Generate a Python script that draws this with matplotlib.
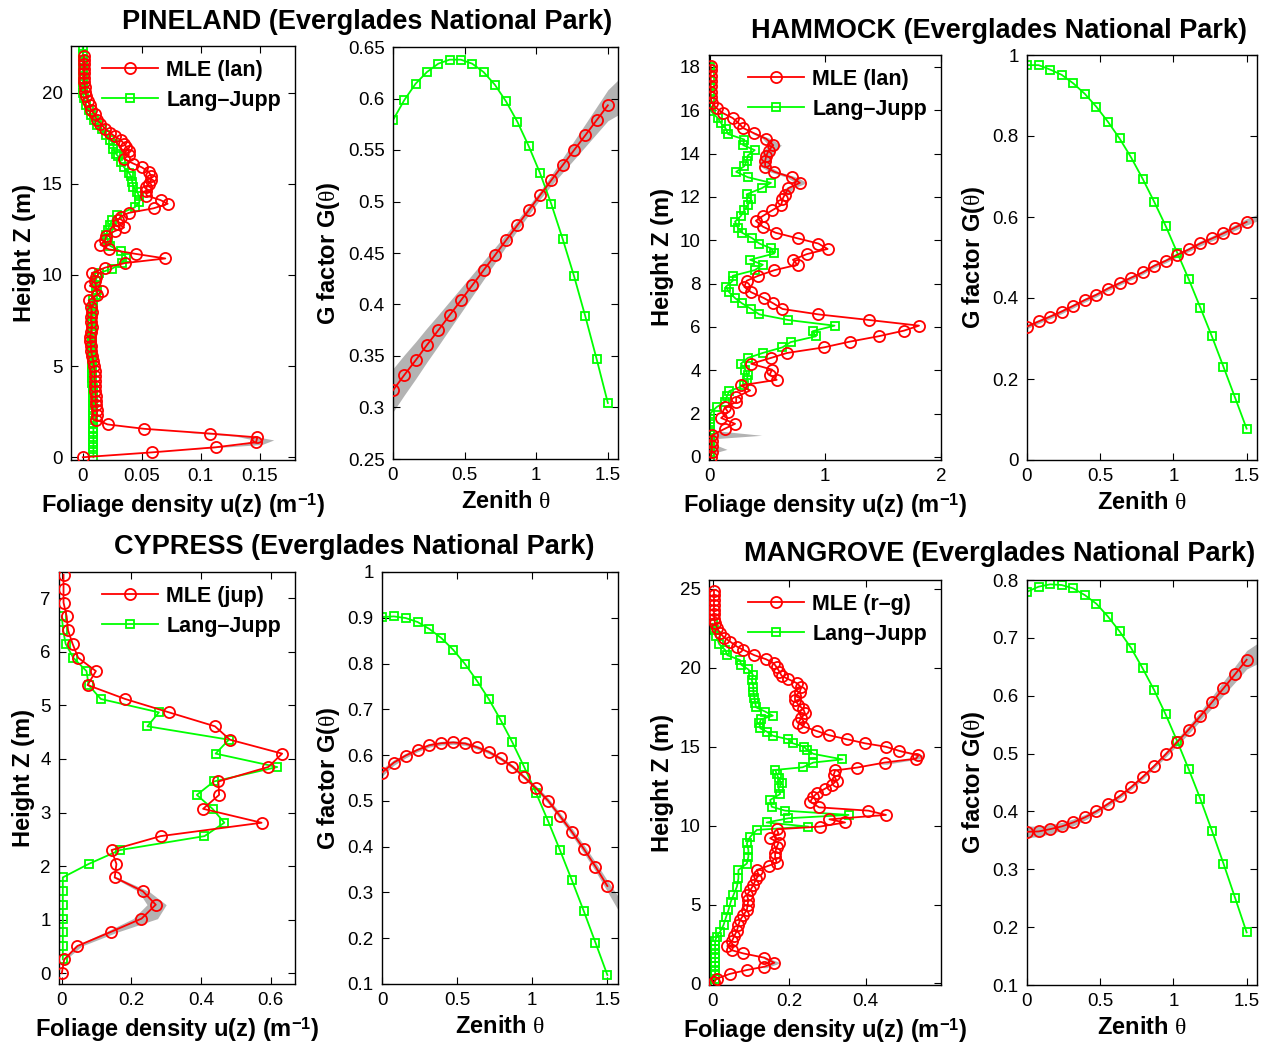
import numpy as np
import matplotlib
matplotlib.use('Agg')
import matplotlib.pyplot as plt
from matplotlib.ticker import FuncFormatter

plt.rcParams['font.family'] = ['Liberation Sans', 'DejaVu Sans']
plt.rcParams['mathtext.fontset'] = 'custom'
plt.rcParams['mathtext.rm'] = 'Liberation Serif'
plt.rcParams['mathtext.it'] = 'Liberation Serif:italic'
plt.rcParams['mathtext.bf'] = 'Liberation Sans:bold'

# ---------------- PINELAND ----------------
pine_mle_z = [0.0, 0.27, 0.55, 0.82, 1.09, 1.3, 1.56, 1.8, 2.07, 2.3, 2.57, 2.84, 3.11, 3.38, 3.65, 3.92,
              4.19, 4.46, 4.73, 5.0, 5.27, 5.54, 5.81, 6.08, 6.35, 6.62, 6.89, 7.16, 7.43, 7.7, 7.97, 8.24,
              8.6, 8.9, 9.1, 9.4, 9.65, 9.9, 10.1, 10.4, 10.65, 10.9, 11.15, 11.4, 11.65, 11.9, 12.15, 12.4,
              12.6, 12.8, 13.0, 13.2, 13.4, 13.65, 13.9, 14.1, 14.35, 14.6, 14.8, 15.0, 15.2, 15.4, 15.65,
              15.9, 16.1, 16.35, 16.6, 16.8, 17.0, 17.2, 17.4, 17.6, 17.8, 18.0, 18.3, 18.5, 18.8, 19.05,
              19.3, 19.55, 19.8, 20.05, 20.3, 20.55, 20.8, 21.05, 21.3, 21.55, 21.8, 22.0]
pine_mle_u = [0.0, 0.059, 0.113, 0.147, 0.148, 0.108, 0.052, 0.021, 0.011, 0.012, 0.012, 0.011, 0.011, 0.011,
              0.0105, 0.0105, 0.010, 0.010, 0.010, 0.0095, 0.009, 0.008, 0.007, 0.007, 0.0065, 0.006, 0.007,
              0.008, 0.007, 0.007, 0.0075, 0.007, 0.005, 0.012, 0.016, 0.006, 0.010, 0.011, 0.0076, 0.019,
              0.036, 0.070, 0.045, 0.022, 0.015, 0.019, 0.020, 0.027, 0.035, 0.030, 0.030, 0.032, 0.039,
              0.060, 0.072, 0.066, 0.054, 0.054, 0.054, 0.056, 0.058, 0.058, 0.056, 0.050, 0.043, 0.035,
              0.039, 0.039, 0.037, 0.035, 0.032, 0.027, 0.023, 0.019, 0.015, 0.012, 0.010, 0.007, 0.006,
              0.004, 0.003, 0.002, 0.002, 0.001, 0.001, 0.001, 0.001, 0.001, 0.001, 0.001]
pine_lj_z = [0.0, 0.27, 0.55, 0.82, 1.09, 1.36, 1.63, 1.9, 2.17, 2.44, 2.71, 2.98, 3.25, 3.52, 3.79, 4.06,
             4.33, 4.6, 4.87, 5.14, 5.41, 5.68, 5.95, 6.22, 6.49, 6.76, 7.03, 7.3, 7.57, 7.84, 8.11, 8.38,
             8.65, 8.9, 9.15, 9.4, 9.65, 9.9, 10.1, 10.35, 10.65, 10.95, 11.3, 11.6, 11.9, 12.2, 12.45,
             12.75, 13.0, 13.3, 13.7, 14.0, 14.3, 14.55, 14.8, 15.1, 15.4, 15.6, 15.9, 16.2, 16.5, 16.65,
             16.9, 17.2, 17.4, 17.65, 18.0, 18.2, 18.5, 18.75, 19.05, 19.3, 19.7, 20.0, 20.3, 20.6, 20.9,
             21.2, 21.5, 21.8, 22.1, 22.45]
pine_lj_u = [0.009, 0.009, 0.009, 0.009, 0.009, 0.009, 0.009, 0.009, 0.009, 0.009, 0.009, 0.009, 0.0085,
             0.0085, 0.0085, 0.008, 0.008, 0.008, 0.008, 0.008, 0.0075, 0.0075, 0.0075, 0.0075, 0.0075,
             0.0075, 0.0075, 0.0075, 0.008, 0.008, 0.008, 0.0085, 0.009, 0.011, 0.012, 0.011, 0.011, 0.012,
             0.014, 0.025, 0.033, 0.037, 0.032, 0.023, 0.021, 0.020, 0.021, 0.023, 0.025, 0.029, 0.044,
             0.048, 0.048, 0.046, 0.043, 0.042, 0.041, 0.039, 0.035, 0.032, 0.030, 0.028, 0.026, 0.026,
             0.023, 0.020, 0.016, 0.012, 0.0096, 0.007, 0.005, 0.003, 0.001, 0.0, 0.0, 0.0, 0.0, 0.0,
             0.0, 0.0, 0.0, 0.0]
pine_band_z = [0.45, 0.7, 0.95, 1.15, 1.35]
pine_band_lo = [0.09, 0.135, 0.145, 0.13, 0.09]
pine_band_hi = [0.095, 0.152, 0.162, 0.145, 0.095]

theta = [0.0, 0.079, 0.158, 0.237, 0.316, 0.395, 0.474, 0.553, 0.632, 0.711, 0.789, 0.868, 0.947,
         1.026, 1.105, 1.184, 1.263, 1.342, 1.421, 1.5]
theta_end = 1.5708

pine_g_mle = [0.3167, 0.3316, 0.3458, 0.3607, 0.3749, 0.3895, 0.4040, 0.4186, 0.4332, 0.4477, 0.4623,
              0.4769, 0.4914, 0.5060, 0.5206, 0.5351, 0.5497, 0.5642, 0.5788, 0.5934]
pine_g_lj = [0.5790, 0.5985, 0.6144, 0.6257, 0.6338, 0.6377, 0.6377, 0.6338, 0.6257, 0.6134, 0.5972,
             0.5775, 0.5539, 0.5277, 0.4976, 0.4639, 0.4280, 0.3888, 0.3474, 0.3044]
pine_g_hw = [0.021, 0.0195, 0.018, 0.0165, 0.015, 0.0135, 0.012, 0.0105, 0.009, 0.0075, 0.006, 0.005,
             0.0045, 0.004, 0.005, 0.007, 0.009, 0.011, 0.013, 0.015]
pine_g_end = [0.584, 0.618]

# ---------------- HAMMOCK ----------------
ham_mle_z = [0.0, 0.25, 0.5, 0.75, 1.0, 1.3, 1.53, 1.8, 2.07, 2.3, 2.53, 2.76, 3.07, 3.3, 3.56, 3.8, 4.03,
             4.3, 4.57, 4.8, 5.06, 5.32, 5.57, 5.83, 6.06, 6.32, 6.58, 6.83, 7.09, 7.33, 7.6, 7.85, 8.13,
             8.36, 8.62, 8.87, 9.1, 9.36, 9.6, 9.85, 10.09, 10.35, 10.63, 10.9, 11.12, 11.38, 11.63, 11.9,
             12.1, 12.4, 12.65, 12.9, 13.16, 13.4, 13.65, 13.9, 14.14, 14.39, 14.68, 14.95, 15.18, 15.41,
             15.64, 15.87, 16.1, 16.35, 16.6, 16.85, 17.1, 17.35, 17.6, 17.85, 18.05]
ham_mle_u = [0.01, 0.02, 0.02, 0.02, 0.02, 0.13, 0.22, 0.10, 0.16, 0.13, 0.23, 0.23, 0.35, 0.27, 0.58,
             0.52, 0.54, 0.36, 0.53, 0.67, 0.99, 1.21, 1.46, 1.68, 1.81, 1.38, 0.94, 0.63, 0.55, 0.47,
             0.36, 0.30, 0.32, 0.42, 0.56, 0.76, 0.72, 0.84, 1.02, 0.94, 0.76, 0.57, 0.46, 0.40, 0.46,
             0.54, 0.62, 0.63, 0.65, 0.68, 0.78, 0.71, 0.56, 0.48, 0.48, 0.49, 0.51, 0.55, 0.49, 0.38,
             0.29, 0.25, 0.20, 0.115, 0.06, 0.02, 0.01, 0.01, 0.01, 0.01, 0.01, 0.01, 0.01]
ham_lj_z = [0.0, 0.25, 0.5, 0.75, 1.0, 1.25, 1.5, 1.75, 2.0, 2.3, 2.53, 2.8, 3.04, 3.3, 3.53, 3.76, 4.02,
            4.3, 4.57, 4.8, 5.06, 5.3, 5.57, 5.8, 6.06, 6.32, 6.58, 6.83, 7.09, 7.33, 7.6, 7.85, 8.13,
            8.36, 8.62, 8.87, 9.1, 9.39, 9.63, 9.85, 10.09, 10.35, 10.58, 10.86, 11.12, 11.38, 11.63,
            11.89, 12.12, 12.4, 12.65, 12.91, 13.16, 13.42, 13.65, 13.91, 14.16, 14.39, 14.65, 14.9,
            15.15, 15.4, 15.64, 15.95, 16.2, 16.5, 16.8, 17.1, 17.4, 17.7, 18.0]
ham_lj_u = [0.005, 0.005, 0.005, 0.005, 0.005, 0.005, 0.005, 0.005, 0.005, 0.06, 0.13, 0.15, 0.17,
            0.30, 0.32, 0.33, 0.31, 0.27, 0.33, 0.46, 0.63, 0.70, 0.92, 0.89, 1.08, 0.68, 0.43, 0.36,
            0.28, 0.22, 0.17, 0.14, 0.20, 0.20, 0.39, 0.46, 0.35, 0.56, 0.53, 0.43, 0.37, 0.28, 0.245,
            0.22, 0.27, 0.30, 0.33, 0.36, 0.32, 0.45, 0.53, 0.33, 0.23, 0.30, 0.32, 0.33, 0.39, 0.29,
            0.30, 0.16, 0.14, 0.10, 0.07, 0.014, 0.005, 0.005, 0.005, 0.005, 0.005, 0.005, 0.005]
ham_band_z = [0.15, 0.35, 0.5, 0.7, 0.85, 1.0, 1.2, 1.3]
ham_band_lo = [0.005, 0.005, 0.005, 0.005, 0.005, 0.01, 0.05, 0.12]
ham_band_hi = [0.02, 0.15, 0.08, 0.04, 0.06, 0.45, 0.08, 0.14]
ham_band2_z = [12.1, 12.4, 12.65, 12.9, 13.16, 13.4, 13.65, 13.9, 14.14, 14.39, 14.68, 14.95]
ham_band2_lo = [0.62, 0.65, 0.74, 0.67, 0.52, 0.44, 0.44, 0.45, 0.47, 0.51, 0.46, 0.36]
ham_band2_hi = [0.68, 0.72, 0.84, 0.76, 0.60, 0.52, 0.53, 0.54, 0.57, 0.62, 0.53, 0.40]

ham_g_mle = [0.3295, 0.342, 0.354, 0.3666, 0.3806, 0.395, 0.408, 0.4234, 0.4366, 0.450, 0.463, 0.4794,
             0.4918, 0.5066, 0.5198, 0.535, 0.547, 0.560, 0.574, 0.588]
ham_g_lj = [0.975, 0.975, 0.964, 0.951, 0.930, 0.904, 0.872, 0.835, 0.794, 0.747, 0.695, 0.638, 0.578,
            0.512, 0.446, 0.376, 0.305, 0.230, 0.154, 0.0774]
ham_g_hw = [0.005, 0.005, 0.005, 0.005, 0.005, 0.005, 0.005, 0.005, 0.005, 0.005, 0.005, 0.005, 0.005,
            0.005, 0.005, 0.006, 0.006, 0.007, 0.007, 0.008]
ham_g_end = [0.590, 0.606]

# ---------------- CYPRESS ----------------
cyp_mle_z = [0.0, 0.26, 0.51, 0.77, 1.02, 1.28, 1.53, 1.79, 2.04, 2.30, 2.56, 2.81, 3.07, 3.33, 3.58,
             3.85, 4.10, 4.36, 4.61, 4.87, 5.12, 5.38, 5.64, 5.89, 6.15, 6.40, 6.66, 6.92, 7.17, 7.44]
cyp_mle_u = [0.0, 0.007, 0.045, 0.14, 0.229, 0.27, 0.233, 0.152, 0.157, 0.143, 0.284, 0.574, 0.406,
             0.452, 0.45, 0.593, 0.633, 0.483, 0.44, 0.308, 0.182, 0.074, 0.098, 0.047, 0.031, 0.018,
             0.014, 0.005, 0.005, 0.005]
cyp_lj_z = [0.26, 0.51, 0.77, 1.02, 1.28, 1.53, 1.79, 2.04, 2.30, 2.56, 2.81, 3.07, 3.33, 3.58, 3.85,
            4.10, 4.36, 4.61, 4.87, 5.12, 5.38, 5.64, 5.89, 6.15, 6.40, 6.66]
cyp_lj_u = [0.003, 0.003, 0.003, 0.003, 0.003, 0.003, 0.003, 0.077, 0.167, 0.41, 0.467, 0.433, 0.388,
            0.437, 0.619, 0.442, 0.48, 0.246, 0.279, 0.112, 0.077, 0.071, 0.033, 0.011, 0.004, 0.0]
cyp_band_z = [0.26, 0.51, 0.77, 1.02, 1.28, 1.53, 1.79]
cyp_band_lo = [0.004, 0.038, 0.125, 0.205, 0.245, 0.22, 0.147]
cyp_band_hi = [0.012, 0.058, 0.16, 0.275, 0.30, 0.25, 0.16]

cyp_g_mle = [0.562, 0.5838, 0.5991, 0.6115, 0.6217, 0.626, 0.6276, 0.6254, 0.6173, 0.6071, 0.5926,
             0.575, 0.5518, 0.5277, 0.5007, 0.4672, 0.4329, 0.3958, 0.3564, 0.3141]
cyp_g_lj = [0.9016, 0.903, 0.8994, 0.8907, 0.8754, 0.8557, 0.830, 0.7988, 0.7624, 0.7223, 0.6771,
            0.6276, 0.5736, 0.5168, 0.4563, 0.3929, 0.3273, 0.2602, 0.1902, 0.1197]
cyp_g_hw = [0.008, 0.006, 0.005, 0.004, 0.004, 0.004, 0.004, 0.004, 0.004, 0.004, 0.004, 0.004, 0.004,
            0.005, 0.006, 0.007, 0.008, 0.009, 0.010, 0.012]
cyp_g_end = [0.262, 0.292]

# ---------------- MANGROVE ----------------
man_mle_z = [0.06, 0.3, 0.6, 0.85, 1.06, 1.31, 1.63, 1.9, 2.1, 2.37, 2.68, 3.0, 3.34, 3.7, 4.0, 4.33,
             4.65, 4.97, 5.3, 5.6, 5.9, 6.24, 6.6, 6.87, 7.19, 7.46, 7.65, 7.99, 8.29, 8.63, 8.92, 9.2,
             9.5, 9.77, 9.94, 10.2, 10.4, 10.68, 10.95, 11.16, 11.52, 11.8, 12.05, 12.35, 12.58, 12.85,
             13.2, 13.5, 13.68, 14.0, 14.25, 14.46, 14.74, 15.0, 15.22, 15.48, 15.73, 16.0, 16.28, 16.53,
             16.8, 17.12, 17.38, 17.65, 17.97, 18.2, 18.5, 18.77, 19.03, 19.28, 19.5, 19.77, 20.04, 20.3,
             20.55, 20.8, 21.14, 21.35, 21.67, 21.92, 22.2, 22.5, 22.83, 23.1, 23.4, 23.7, 24.0, 24.3,
             24.6, 24.9]
man_mle_u = [0.002, 0.01, 0.044, 0.089, 0.135, 0.161, 0.135, 0.08, 0.05, 0.038, 0.05, 0.056, 0.063,
             0.067, 0.071, 0.08, 0.089, 0.091, 0.093, 0.089, 0.098, 0.106, 0.113, 0.12, 0.115, 0.146,
             0.167, 0.163, 0.163, 0.167, 0.172, 0.15, 0.172, 0.167, 0.28, 0.346, 0.305, 0.453, 0.407,
             0.278, 0.255, 0.262, 0.272, 0.294, 0.311, 0.324, 0.316, 0.32, 0.377, 0.45, 0.532, 0.538,
             0.488, 0.453, 0.398, 0.35, 0.304, 0.272, 0.237, 0.224, 0.231, 0.241, 0.237, 0.224, 0.215,
             0.215, 0.228, 0.231, 0.22, 0.198, 0.18, 0.174, 0.167, 0.159, 0.139, 0.109, 0.08, 0.063,
             0.045, 0.03, 0.019, 0.012, 0.006, 0.004, 0.003, 0.003, 0.003, 0.003, 0.003, 0.003]
man_lj_z = [0.0, 0.27, 0.54, 0.81, 1.08, 1.35, 1.62, 1.89, 2.16, 2.43, 2.7, 2.96, 3.28, 3.7, 4.23, 4.65,
            5.18, 5.6, 6.13, 6.66, 7.19, 7.6, 8.03, 8.46, 8.88, 9.3, 9.73, 9.94, 10.2, 10.47, 10.68,
            10.95, 11.2, 11.63, 12.0, 12.37, 12.68, 13.0, 13.3, 13.53, 13.7, 14.0, 14.2, 14.55, 14.8,
            15.0, 15.22, 15.47, 15.7, 15.96, 16.17, 16.5, 16.74, 16.97, 17.23, 17.5, 17.76, 18.08, 18.5,
            18.8, 19.24, 19.56, 19.9, 20.2, 20.5, 20.8, 21.14, 21.5, 21.99, 22.4, 22.8]
man_lj_u = [0.005, 0.006, 0.006, 0.006, 0.006, 0.006, 0.006, 0.006, 0.006, 0.006, 0.006, 0.01, 0.019,
            0.028, 0.035, 0.041, 0.047, 0.054, 0.063, 0.067, 0.067, 0.089, 0.093, 0.093, 0.089, 0.098,
            0.115, 0.25, 0.141, 0.198, 0.355, 0.189, 0.154, 0.15, 0.176, 0.172, 0.18, 0.172, 0.167,
            0.163, 0.235, 0.263, 0.339, 0.263, 0.246, 0.239, 0.209, 0.198, 0.157, 0.141, 0.124, 0.122,
            0.126, 0.157, 0.137, 0.113, 0.111, 0.109, 0.106, 0.106, 0.102, 0.105, 0.093, 0.074, 0.071,
            0.038, 0.032, 0.017, 0.009, 0.003, 0.0]
man_band_z = [1.0, 1.31, 1.63]
man_band_lo = [0.13, 0.15, 0.13]
man_band_hi = [0.14, 0.178, 0.14]
man_band2_z = [13.9, 14.25, 14.46, 14.74]
man_band2_lo = [0.43, 0.525, 0.53, 0.48]
man_band2_hi = [0.455, 0.545, 0.552, 0.495]

man_g_mle = [0.3648, 0.3654, 0.3694, 0.3741, 0.381, 0.3897, 0.4002, 0.4129, 0.4262, 0.4419, 0.4593,
             0.4784, 0.4987, 0.5201, 0.5416, 0.5647, 0.5885, 0.6128, 0.6372, 0.6621]
man_g_lj = [0.7797, 0.7884, 0.7925, 0.7913, 0.7855, 0.7739, 0.7589, 0.7368, 0.7113, 0.6824, 0.6476,
            0.6099, 0.5676, 0.5213, 0.4726, 0.4216, 0.3666, 0.3098, 0.2507, 0.191]
man_g_hw = [0.010, 0.009, 0.008, 0.007, 0.006, 0.005, 0.004, 0.004, 0.004, 0.004, 0.004, 0.004, 0.005,
            0.006, 0.007, 0.008, 0.010, 0.012, 0.014, 0.016]
man_g_end = [0.655, 0.690]

titles = ['PINELAND (Everglades National Park)', 'HAMMOCK (Everglades National Park)',
          'CYPRESS (Everglades National Park)', 'MANGROVE (Everglades National Park)']
mle_labels = ['MLE (lan)', 'MLE (lan)', 'MLE (jup)', 'MLE (r\u2013g)']
lj_label = 'Lang\u2013Jupp'

# ---------------- drawing ----------------
W, H = 1270, 1048
RED = (1, 0, 0)
GREEN = (0, 1, 0)
GREY = (0.70, 0.70, 0.70)

fig = plt.figure(figsize=(W / 100, H / 100), dpi=100)


def add_ax(l, t, r, b):
    return fig.add_axes([l / W, 1 - b / H, (r - l) / W, (b - t) / H])


fmt = FuncFormatter(lambda v, _: f'{v:g}')


def style(ax, xlim, ylim, xticks, yticks):
    ax.set_xlim(*xlim)
    ax.set_ylim(*ylim)
    ax.set_xticks(xticks)
    ax.set_yticks(yticks)
    ax.xaxis.set_major_formatter(fmt)
    ax.yaxis.set_major_formatter(fmt)
    ax.tick_params(direction='in', top=True, right=True, length=5, width=0.8,
                   labelsize=13.5, pad=6)
    for sp in ax.spines.values():
        sp.set_linewidth(1.0)


LBL = dict(fontsize=17, fontweight='bold')
mk_c = dict(color=RED, marker='o', mfc='none', mec=RED, ms=8, mew=1.3, lw=1.3)
mk_s = dict(color=GREEN, marker='s', mfc='none', mec=GREEN, ms=6.3, mew=1.3, lw=1.3)


def density(ax, mu, mz, lu, lz, bands, mle_label):
    for bz, blo, bhi in bands:
        ax.fill_betweenx(bz, blo, bhi, color=GREY, lw=0, zorder=1)
    h2, = ax.plot(lu, lz, zorder=2, **mk_s)
    h1, = ax.plot(mu, mz, zorder=3, **mk_c)
    ax.legend([h1, h2], [mle_label, lj_label], loc='upper right', frameon=False,
              prop=dict(size=15.5, weight='bold'), handlelength=2.6, handletextpad=0.4,
              labelspacing=0.4, borderaxespad=0.25, borderpad=0.4)
    ax.set_ylabel('Height Z (m)', **LBL)
    ax.set_xlabel(r'Foliage density u(z) (m$^{\mathbf{-1}}$)', **LBL)


def gfactor(ax, mle, lj, hw, end):
    bt = theta + [theta_end]
    lo = [m - h for m, h in zip(mle, hw)] + [end[0]]
    hi = [m + h for m, h in zip(mle, hw)] + [end[1]]
    ax.fill_between(bt, lo, hi, color=GREY, lw=0, zorder=1)
    ax.plot(theta, lj, zorder=2, **mk_s)
    ax.plot(theta, mle, zorder=3, **mk_c)
    ax.set_ylabel(r'G factor G($\mathrm{\theta}$)', **LBL)
    ax.set_xlabel(r'Zenith $\mathrm{\theta}$', **LBL)


# Pineland
ax = add_ax(71, 46, 295, 460)
density(ax, pine_mle_u, pine_mle_z, pine_lj_u, pine_lj_z,
        [(pine_band_z, pine_band_lo, pine_band_hi)], mle_labels[0])
style(ax, (-0.01, 0.18), (-0.15, 22.55), [0, 0.05, 0.1, 0.15], [0, 5, 10, 15, 20])

ax = add_ax(393, 47, 618, 459)
gfactor(ax, pine_g_mle, pine_g_lj, pine_g_hw, pine_g_end)
style(ax, (0, theta_end), (0.25, 0.65), [0, 0.5, 1, 1.5], np.arange(0.25, 0.651, 0.05))

# Hammock
ax = add_ax(709, 55, 941, 460)
density(ax, ham_mle_u, ham_mle_z, ham_lj_u, ham_lj_z,
        [(ham_band_z, ham_band_lo, ham_band_hi), (ham_band2_z, ham_band2_lo, ham_band2_hi)],
        mle_labels[1])
style(ax, (-0.005, 2.0), (-0.14, 18.55), [0, 1, 2], np.arange(0, 18.1, 2))

ax = add_ax(1027, 55, 1257, 460)
gfactor(ax, ham_g_mle, ham_g_lj, ham_g_hw, ham_g_end)
style(ax, (0, theta_end), (0, 1), [0, 0.5, 1, 1.5], np.arange(0, 1.01, 0.2))

# Cypress
ax = add_ax(59, 572, 295, 984)
density(ax, cyp_mle_u, cyp_mle_z, cyp_lj_u, cyp_lj_z,
        [(cyp_band_z, cyp_band_lo, cyp_band_hi)], mle_labels[2])
style(ax, (-0.008, 0.67), (-0.2, 7.49), [0, 0.2, 0.4, 0.6], np.arange(0, 7.1, 1))

ax = add_ax(382, 572, 618, 984)
gfactor(ax, cyp_g_mle, cyp_g_lj, cyp_g_hw, cyp_g_end)
style(ax, (0, theta_end), (0.1, 1.0), [0, 0.5, 1, 1.5], np.arange(0.1, 1.01, 0.1))

# Mangrove
ax = add_ax(709, 580, 941, 985)
density(ax, man_mle_u, man_mle_z, man_lj_u, man_lj_z,
        [(man_band_z, man_band_lo, man_band_hi), (man_band2_z, man_band2_lo, man_band2_hi)],
        mle_labels[3])
style(ax, (-0.01, 0.597), (-0.1, 25.57), [0, 0.2, 0.4], np.arange(0, 25.1, 5))

ax = add_ax(1027, 580, 1257, 985)
gfactor(ax, man_g_mle, man_g_lj, man_g_hw, man_g_end)
style(ax, (0, theta_end), (0.1, 0.8), [0, 0.5, 1, 1.5], np.arange(0.1, 0.81, 0.1))

# Titles
title_pos = [(367, 22), (999, 31), (354, 547), (1000, 554)]
for t, (x, y) in zip(titles, title_pos):
    fig.text(x / W, 1 - y / H, t, ha='center', va='center', fontsize=19.5, fontweight='bold')

fig.savefig('out.png', dpi=100)
